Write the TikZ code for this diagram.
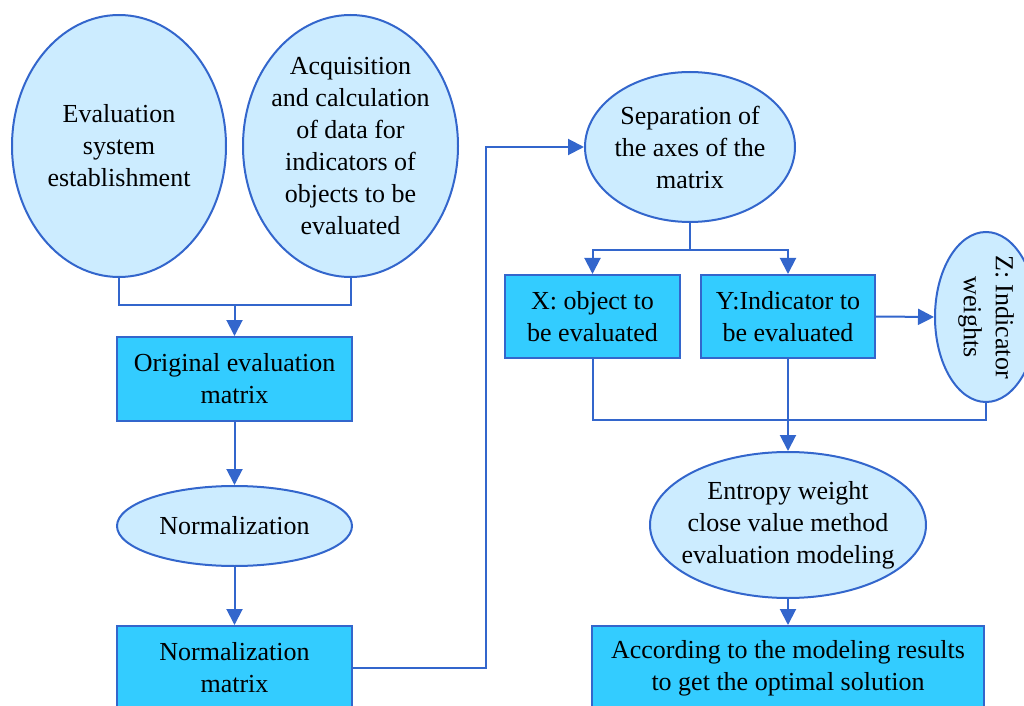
\documentclass[tikz,border=0pt]{standalone}
\usepackage{fontspec}
\setmainfont{Liberation Serif}
\usetikzlibrary{shapes.geometric,arrows.meta}
\definecolor{lineblue}{RGB}{51,102,204}
\definecolor{boxfill}{RGB}{51,204,255}
\definecolor{ellfill}{RGB}{204,236,255}
\begin{document}
\begin{tikzpicture}[x=0.5pt,y=-0.5pt,
  font=\fontsize{13pt}{16pt}\selectfont,
  ell/.style={ellipse, draw=lineblue, fill=ellfill, line width=1pt, inner sep=0pt, align=center},
  boxn/.style={rectangle, draw=lineblue, fill=boxfill, line width=1pt, inner sep=0pt, align=center},
  conn/.style={draw=lineblue, line width=1pt},
  arr/.style={conn, -{Triangle[length=8pt,width=8pt]}}]
\useasboundingbox (0,0) rectangle (1024,706);
\clip (0,0) rectangle (1024,706);
\node[ell, minimum width=107pt, minimum height=131pt] (e1) at (119,146) {Evaluation\\system\\establishment};
\node[ell, inner xsep=-3pt, minimum width=107.5pt, minimum height=131pt] (e2) at (350.5,146) {Acquisition\\and calculation\\of data for\\indicators of\\objects to be\\evaluated};
\node[boxn, minimum width=117.5pt, minimum height=42pt] (b1) at (234.5,379) {Original evaluation\\matrix};
\node[ell, minimum width=117.5pt, minimum height=40pt] (norm) at (234.5,526) {Normalization};
\node[boxn, minimum width=117.5pt, minimum height=42pt] (b2) at (234.5,668) {Normalization\\matrix};
\node[ell, inner xsep=-1.5pt, minimum width=105pt, minimum height=75pt] (sep) at (690,147) {Separation of\\the axes of the\\matrix};
\node[boxn, minimum width=87.5pt, minimum height=41.5pt] (bx) at (592.5,316.5) {X: object to\\be evaluated};
\node[boxn, minimum width=87pt, minimum height=41.5pt] (by) at (788,316.5) {Y:Indicator to\\be evaluated};
\node[ell, minimum width=51pt, minimum height=85pt] (z) at (986,317) {};
\node[rotate=-90, align=center, inner sep=0pt] (zt) at (z.center) {Z: Indicator\\weights};
\node[ell, inner xsep=-6pt, minimum width=138pt, minimum height=73pt] (ent) at (788,525) {Entropy weight\\close value method\\evaluation modeling};
\node[boxn, minimum width=196pt, minimum height=42pt] (fin) at (788,668) {According to the modeling results\\to get the optimal solution};
\coordinate (j1) at (234.5,305);
\draw[conn] (e1.south) |- (j1);
\draw[conn] (e2.south) |- (j1);
\draw[arr] (j1) -- (b1.north);
\draw[arr] (b1.south) -- (norm.north);
\draw[arr] (norm.south) -- (b2.north);
\coordinate (t1) at (486,668);
\draw[arr] (b2.east) -- (t1) |- (sep.west);
\coordinate (j2) at (690,250);
\draw[conn] (sep.south) -- (j2);
\draw[arr] (j2) -| (bx.north);
\draw[arr] (j2) -| (by.north);
\draw[arr] (by.east) -- (z.west);
\coordinate (j3) at (788,420);
\draw[conn] (bx.south) |- (j3);
\draw[conn] (z.south) |- (j3);
\draw[arr] (by.south) -- (ent.north);
\draw[arr] (ent.south) -- (fin.north);
\end{tikzpicture}
\end{document}
